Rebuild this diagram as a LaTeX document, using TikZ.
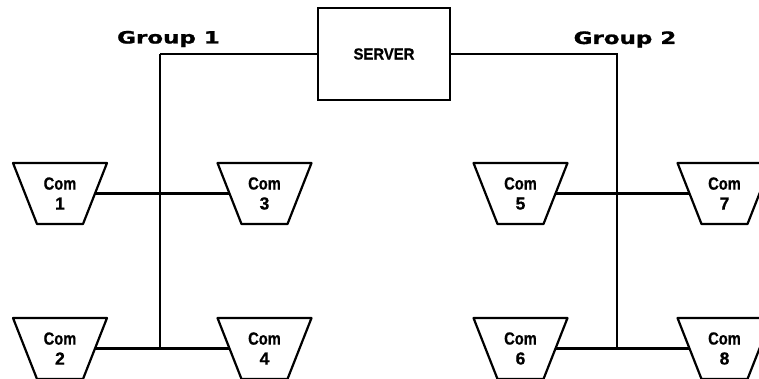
\documentclass[tikz,border=0pt]{standalone}
\usepackage{fontspec}
\setmainfont{Liberation Sans}
\newfontfamily\groupfont{DejaVu Sans}[FakeBold=1.2]
\newfontfamily\comfont{Liberation Sans}[FakeBold=0.8]
\usetikzlibrary{backgrounds}

\tikzset{
  comp/.style={minimum width=94pt, minimum height=61pt, inner sep=0pt,
    align=center, font=\comfont\bfseries\fontsize{17.5}{20}\selectfont},
  compborder/.style={draw, line width=2.2pt, line join=round, fill=white},
  serverbox/.style={draw, line width=2.2pt, minimum width=132pt,
    minimum height=92pt, inner sep=0pt, fill=white,
    font=\comfont\bfseries\fontsize{16}{18}\selectfont},
  grouplabel/.style={anchor=base, inner sep=0pt,
    font=\groupfont\bfseries\fontsize{17}{20}\selectfont},
  trunk/.style={line width=1.5pt},
  riser/.style={line width=2.5pt},
  link/.style={line width=2.8pt},
  linkheavy/.style={line width=3.6pt}
}

% a workstation: trapezoid (wide edge on top) with its label
\newcommand\compnode[3]{%
  \draw[compborder] (#2) ++(-47,-30.5) -- ++(94,0) -- ++(-24,61)
    -- ++(-46,0) -- cycle;
  \node[comp] (#1) at (#2) {\scalebox{0.84}[1]{Com}\\#3};}

\begin{document}
\begin{tikzpicture}[x=1pt,y=-1pt]
  \useasboundingbox (0,0) rectangle (759,379);

  % server and group captions
  \node[serverbox] (srv) at (384,54) {\scalebox{0.93}[1]{SERVER}};
  \node[grouplabel] (grp1) at (168.5,43.5) {\scalebox{1.35}[1]{Group 1}};
  \node[grouplabel] (grp2) at (625,44) {\scalebox{1.35}[1]{Group 2}};

  % workstations
  \compnode{c1}{60,193.5}{1}
  \compnode{c3}{264.5,193.5}{3}
  \compnode{c2}{60,348.5}{2}
  \compnode{c4}{264.5,348.5}{4}
  \compnode{c5}{520.5,193.5}{5}
  \compnode{c7}{724.5,193.5}{7}
  \compnode{c6}{520.5,348.5}{6}
  \compnode{c8}{724.5,348.5}{8}

  % bus corners
  \coordinate (g1top) at (160,54);
  \coordinate (g2top) at (617,54);

  \begin{scope}[on background layer]
    % group 1 wiring (links run under the trapezoid fills)
    \draw[trunk] (srv.west) -- (g1top);
    \draw[riser] (g1top) -- (g1top |- c2.center);
    \draw[link] (c1.center) -- (c3.center);
    \draw[linkheavy] (c2.center) -- (c4.center);
    % group 2 wiring
    \draw[trunk] (srv.east) -- (g2top) -- (g2top |- c5.center);
    \draw[riser] (g2top |- c5.center) -- (g2top |- c6.center);
    \draw[link] (c5.center) -- (c7.center);
    \draw[linkheavy] (c6.center) -- (c8.center);
  \end{scope}
\end{tikzpicture}
\end{document}
